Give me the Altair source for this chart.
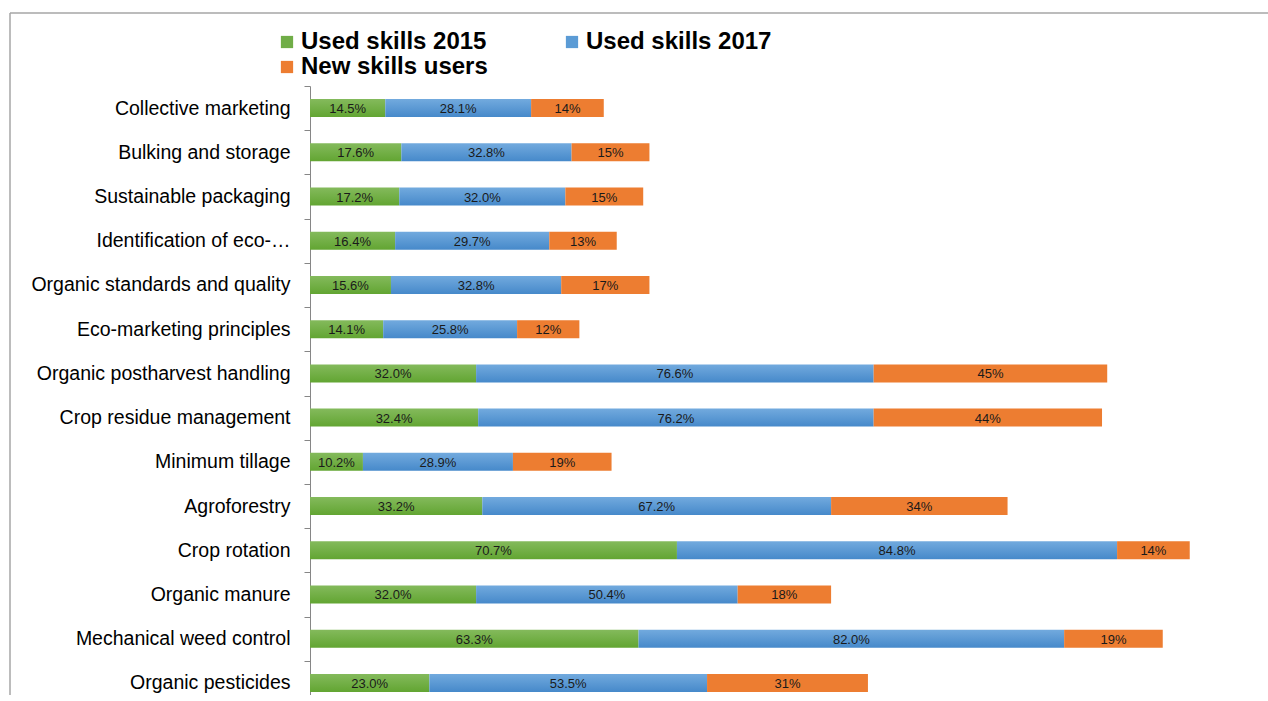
import altair as alt
import pandas as pd

categories = [
    "Collective marketing",
    "Bulking and storage",
    "Sustainable packaging",
    "Identification of eco-…",
    "Organic standards and quality",
    "Eco-marketing principles",
    "Organic postharvest handling",
    "Crop residue management",
    "Minimum tillage",
    "Agroforestry",
    "Crop rotation",
    "Organic manure",
    "Mechanical weed control",
    "Organic pesticides",
]
used_2015 = [14.5, 17.6, 17.2, 16.4, 15.6, 14.1, 32.0, 32.4, 10.2, 33.2, 70.7, 32.0, 63.3, 23.0]
used_2017 = [28.1, 32.8, 32.0, 29.7, 32.8, 25.8, 76.6, 76.2, 28.9, 67.2, 84.8, 50.4, 82.0, 53.5]
new_users = [14, 15, 15, 13, 17, 12, 45, 44, 19, 34, 14, 18, 19, 31]

series_names = ["Used skills 2015", "Used skills 2017", "New skills users"]
series_colors = ["#70AD47", "#5B9BD5", "#ED7D31"]
# legend fills column by column: this order shows 2015 | 2017 on the first row
legend_order = ["Used skills 2015", "New skills users", "Used skills 2017"]
legend_colors = ["#70AD47", "#ED7D31", "#5B9BD5"]

rows = []
for i, c in enumerate(categories):
    rows.append({"cat": c, "series": series_names[0], "order": 0, "value": used_2015[i], "label": f"{used_2015[i]:.1f}%"})
    rows.append({"cat": c, "series": series_names[1], "order": 1, "value": used_2017[i], "label": f"{used_2017[i]:.1f}%"})
    rows.append({"cat": c, "series": series_names[2], "order": 2, "value": new_users[i], "label": f"{new_users[i]:.0f}%"})
df = pd.DataFrame(rows)

W = 955
H = 609

y_enc = alt.Y(
    "cat:N",
    sort=categories,
    title=None,
    scale=alt.Scale(domain=categories, range=[0, 619], paddingInner=0, paddingOuter=0),
    axis=alt.Axis(
        domainColor="#868686",
        tickColor="#868686",
        tickSize=6,
        tickBand="extent",
        labelFont="Liberation Sans",
        labelFontSize=19.5,
        labelColor="#000000",
        labelPadding=14,
        labelLimit=400,
    ),
)
x_scale = alt.Scale(domain=[0, 184], nice=False, zero=True)

base = alt.Chart(df).transform_stack(
    stack="value", groupby=["cat"], as_=["x0", "x1"], sort=[alt.SortField("order")]
)

grad_green = alt.Gradient(
    gradient="linear", x1=0, y1=0, x2=0, y2=1,
    stops=[alt.GradientStop(color="#84ba5c", offset=0), alt.GradientStop(color="#62a532", offset=1)],
)
grad_blue = alt.Gradient(
    gradient="linear", x1=0, y1=0, x2=0, y2=1,
    stops=[alt.GradientStop(color="#72aade", offset=0), alt.GradientStop(color="#4689ca", offset=1)],
)

fills = [grad_green, grad_blue, "#ED7D31"]

layers = []
for name, fill in zip(series_names, fills):
    layers.append(
        base.transform_filter(alt.datum.series == name)
        .mark_bar(color=fill, size=18)
        .encode(
            y=y_enc,
            x=alt.X("x0:Q", scale=x_scale, axis=None),
            x2="x1:Q",
        )
    )

legend_layer = base.mark_bar(opacity=0, size=18).encode(
    y=y_enc,
    x=alt.X("x0:Q", scale=x_scale, axis=None),
    x2="x1:Q",
    color=alt.Color(
        "series:N",
        scale=alt.Scale(domain=legend_order, range=legend_colors),
        legend=alt.Legend(
            title=None,
            orient="none",
            legendX=-35,
            legendY=-56,
            columns=2,
            columnPadding=72,
            rowPadding=1,
            symbolType="square",
            symbolSize=150,
            symbolOpacity=1,
            symbolStrokeWidth=0,
            labelFont="Liberation Sans",
            labelFontSize=24,
            labelFontWeight="bold",
            labelColor="#000000",
            labelOffset=2,
            labelLimit=400,
        ),
    ),
)

text_layer = base.transform_calculate(mid="(datum.x0 + datum.x1) / 2").mark_text(
    font="Liberation Sans", fontSize=13, color="#1a1a1a", baseline="middle", align="center", dy=1
).encode(
    y=y_enc,
    x=alt.X("mid:Q", scale=x_scale, axis=None),
    text="label:N",
)

frame_df = pd.DataFrame({"k": [0]})
frame_top = alt.Chart(frame_df).mark_rule(color="#a6a6a6", strokeWidth=1.5).encode(
    x=alt.value(-300), x2=alt.value(W + 5), y=alt.value(-73)
)
frame_left = alt.Chart(frame_df).mark_rule(color="#a6a6a6", strokeWidth=1.5).encode(
    x=alt.value(-300), y=alt.value(-73), y2=alt.value(H + 10)
)

chart = alt.layer(*layers, legend_layer, text_layer, frame_top, frame_left).properties(
    width=W,
    height=H,
    autosize=alt.AutoSizeParams(type="none"),
    padding={"left": 310, "top": 86, "right": 3, "bottom": 0},
).configure_view(stroke=None)

chart.save("out.html", embed_options={"renderer": "svg", "actions": False})
